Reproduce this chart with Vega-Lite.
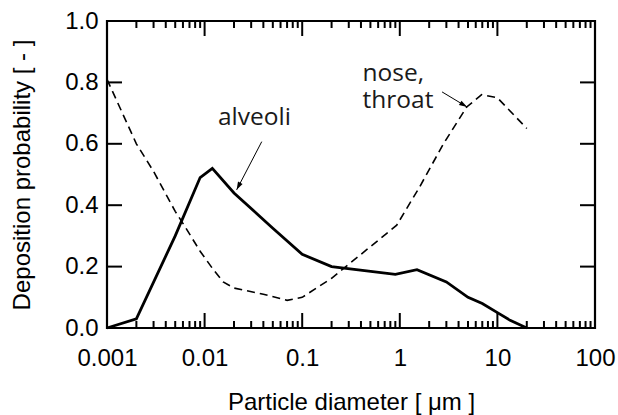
{
  "$schema": "https://vega.github.io/schema/vega-lite/v6.json",
  "width": 488,
  "height": 307,
  "autosize": {"type": "none"},
  "padding": {"left": 107, "top": 21, "right": 23, "bottom": 87},
  "background": "white",
  "config": {
    "view": {"stroke": null},
    "axis": {
      "labelFont": "Liberation Sans", "labelFontSize": 24, "labelColor": "#000",
      "titleFont": "Liberation Sans", "titleFontSize": 24, "titleFontWeight": "normal", "titleColor": "#000",
      "grid": false, "labelFlush": false, "labelOverlap": false,
      "domain": false, "tickOpacity": 0
    }
  },
  "datasets": {
    "curves": [
      {"region": "alveoli", "d": 0.001, "p": 0.0, "o": 1},
      {"region": "alveoli", "d": 0.002, "p": 0.03, "o": 2},
      {"region": "alveoli", "d": 0.005, "p": 0.30, "o": 3},
      {"region": "alveoli", "d": 0.009, "p": 0.49, "o": 4},
      {"region": "alveoli", "d": 0.012, "p": 0.52, "o": 5},
      {"region": "alveoli", "d": 0.02, "p": 0.44, "o": 6},
      {"region": "alveoli", "d": 0.05, "p": 0.325, "o": 7},
      {"region": "alveoli", "d": 0.1, "p": 0.24, "o": 8},
      {"region": "alveoli", "d": 0.2, "p": 0.20, "o": 9},
      {"region": "alveoli", "d": 0.9, "p": 0.175, "o": 10},
      {"region": "alveoli", "d": 1.5, "p": 0.19, "o": 11},
      {"region": "alveoli", "d": 3, "p": 0.15, "o": 12},
      {"region": "alveoli", "d": 5, "p": 0.10, "o": 13},
      {"region": "alveoli", "d": 7, "p": 0.08, "o": 14},
      {"region": "alveoli", "d": 10, "p": 0.05, "o": 15},
      {"region": "alveoli", "d": 13.5, "p": 0.025, "o": 16},
      {"region": "alveoli", "d": 20, "p": 0.0, "o": 17},
      {"region": "nose", "d": 0.001, "p": 0.81, "o": 1},
      {"region": "nose", "d": 0.002, "p": 0.60, "o": 2},
      {"region": "nose", "d": 0.003, "p": 0.51, "o": 3},
      {"region": "nose", "d": 0.005, "p": 0.38, "o": 4},
      {"region": "nose", "d": 0.0063, "p": 0.33, "o": 5},
      {"region": "nose", "d": 0.009, "p": 0.25, "o": 6},
      {"region": "nose", "d": 0.0123, "p": 0.19, "o": 7},
      {"region": "nose", "d": 0.0155, "p": 0.15, "o": 8},
      {"region": "nose", "d": 0.02, "p": 0.13, "o": 9},
      {"region": "nose", "d": 0.04, "p": 0.11, "o": 10},
      {"region": "nose", "d": 0.07, "p": 0.09, "o": 11},
      {"region": "nose", "d": 0.1, "p": 0.10, "o": 12},
      {"region": "nose", "d": 0.2, "p": 0.162, "o": 13},
      {"region": "nose", "d": 0.5, "p": 0.265, "o": 14},
      {"region": "nose", "d": 0.93, "p": 0.335, "o": 15},
      {"region": "nose", "d": 1.6, "p": 0.46, "o": 16},
      {"region": "nose", "d": 2.8, "p": 0.60, "o": 17},
      {"region": "nose", "d": 4.85, "p": 0.72, "o": 18},
      {"region": "nose", "d": 6.9, "p": 0.76, "o": 19},
      {"region": "nose", "d": 10, "p": 0.75, "o": 20},
      {"region": "nose", "d": 20, "p": 0.65, "o": 21},
      {"region": "border", "d": 0.001, "p": 0, "o": 1},
      {"region": "border", "d": 100, "p": 0, "o": 2},
      {"region": "border", "d": 100, "p": 1, "o": 3},
      {"region": "border", "d": 0.001, "p": 1, "o": 4},
      {"region": "border", "d": 0.001, "p": 0, "o": 5}
    ],
    "notes": [
      {"text": "alveoli", "d": 0.0137, "p": 0.661},
      {"text": "nose,\nthroat", "d": 0.415, "p": 0.805}
    ],
    "arrows": [
      {"name": "alveoli", "d": 0.0385, "p": 0.607, "d2": 0.0213, "p2": 0.45},
      {"name": "nose", "d": 2.71, "p": 0.769, "d2": 4.89, "p2": 0.72}
    ],
    "xticks": [
      {"v": 0.001, "kind": "major"}, {"v": 0.01, "kind": "major"}, {"v": 0.1, "kind": "major"},
      {"v": 1, "kind": "major"}, {"v": 10, "kind": "major"}, {"v": 100, "kind": "major"},
      {"v": 0.002, "kind": "minor"}, {"v": 0.003, "kind": "minor"}, {"v": 0.004, "kind": "minor"}, {"v": 0.005, "kind": "minor"}, {"v": 0.006, "kind": "minor"}, {"v": 0.007, "kind": "minor"}, {"v": 0.008, "kind": "minor"}, {"v": 0.009, "kind": "minor"},
      {"v": 0.02, "kind": "minor"}, {"v": 0.03, "kind": "minor"}, {"v": 0.04, "kind": "minor"}, {"v": 0.05, "kind": "minor"}, {"v": 0.06, "kind": "minor"}, {"v": 0.07, "kind": "minor"}, {"v": 0.08, "kind": "minor"}, {"v": 0.09, "kind": "minor"},
      {"v": 0.2, "kind": "minor"}, {"v": 0.3, "kind": "minor"}, {"v": 0.4, "kind": "minor"}, {"v": 0.5, "kind": "minor"}, {"v": 0.6, "kind": "minor"}, {"v": 0.7, "kind": "minor"}, {"v": 0.8, "kind": "minor"}, {"v": 0.9, "kind": "minor"},
      {"v": 2, "kind": "minor"}, {"v": 3, "kind": "minor"}, {"v": 4, "kind": "minor"}, {"v": 5, "kind": "minor"}, {"v": 6, "kind": "minor"}, {"v": 7, "kind": "minor"}, {"v": 8, "kind": "minor"}, {"v": 9, "kind": "minor"},
      {"v": 20, "kind": "minor"}, {"v": 30, "kind": "minor"}, {"v": 40, "kind": "minor"}, {"v": 50, "kind": "minor"}, {"v": 60, "kind": "minor"}, {"v": 70, "kind": "minor"}, {"v": 80, "kind": "minor"}, {"v": 90, "kind": "minor"}
    ],
    "yticks": [{"v": 0.2}, {"v": 0.4}, {"v": 0.6}, {"v": 0.8}]
  },
  "layer": [
    {
      "data": {"name": "curves"},
      "transform": [{"filter": "datum.region === 'alveoli'"}],
      "mark": {"type": "line", "color": "#000", "strokeWidth": 2.8},
      "encoding": {
        "x": {
          "field": "d", "type": "quantitative",
          "scale": {"type": "log", "domain": [0.001, 100], "nice": false},
          "axis": {
            "orient": "bottom",
            "values": [0.001, 0.01, 0.1, 1, 10, 100],
            "format": "~g",
            "tickSize": -15,
            "labelPadding": 33,
            "title": "Particle diameter [ μm ]",
            "titlePadding": 20
          }
        },
        "y": {
          "field": "p", "type": "quantitative",
          "scale": {"domain": [0, 1], "nice": false},
          "axis": {
            "orient": "left",
            "values": [0, 0.2, 0.4, 0.6, 0.8, 1.0],
            "format": ".1f",
            "tickSize": -15,
            "labelPadding": 24,
            "title": "Deposition probability [ - ]",
            "titlePadding": 30
          }
        },
        "order": {"field": "o", "type": "quantitative"}
      }
    },
    {
      "data": {"name": "curves"},
      "transform": [{"filter": "datum.region === 'nose'"}],
      "mark": {"type": "line", "color": "#000", "strokeWidth": 1.6, "strokeDash": [8, 5]},
      "encoding": {
        "x": {"field": "d", "type": "quantitative"},
        "y": {"field": "p", "type": "quantitative"},
        "order": {"field": "o", "type": "quantitative"}
      }
    },
    {
      "data": {"name": "curves"},
      "transform": [{"filter": "datum.region === 'border'"}],
      "mark": {"type": "line", "color": "#000", "strokeWidth": 2.2, "strokeCap": "square", "strokeJoin": "miter"},
      "encoding": {
        "x": {"field": "d", "type": "quantitative"},
        "y": {"field": "p", "type": "quantitative"},
        "order": {"field": "o", "type": "quantitative"}
      }
    },
    {
      "data": {"name": "xticks"},
      "transform": [{"filter": "datum.kind === 'major'"}],
      "mark": {"type": "tick", "orient": "vertical", "color": "#000", "opacity": 1, "size": 15, "thickness": 2, "yOffset": -7.5},
      "encoding": {
        "x": {"field": "v", "type": "quantitative"},
        "y": {"datum": 0, "type": "quantitative"}
      }
    },
    {
      "data": {"name": "xticks"},
      "transform": [{"filter": "datum.kind === 'major'"}],
      "mark": {"type": "tick", "orient": "vertical", "color": "#000", "opacity": 1, "size": 15, "thickness": 2, "yOffset": 7.5},
      "encoding": {
        "x": {"field": "v", "type": "quantitative"},
        "y": {"datum": 1, "type": "quantitative"}
      }
    },
    {
      "data": {"name": "xticks"},
      "transform": [{"filter": "datum.kind === 'minor'"}],
      "mark": {"type": "tick", "orient": "vertical", "color": "#000", "opacity": 1, "size": 7, "thickness": 2, "yOffset": -3.5},
      "encoding": {
        "x": {"field": "v", "type": "quantitative"},
        "y": {"datum": 0, "type": "quantitative"}
      }
    },
    {
      "data": {"name": "xticks"},
      "transform": [{"filter": "datum.kind === 'minor'"}],
      "mark": {"type": "tick", "orient": "vertical", "color": "#000", "opacity": 1, "size": 7, "thickness": 2, "yOffset": 3.5},
      "encoding": {
        "x": {"field": "v", "type": "quantitative"},
        "y": {"datum": 1, "type": "quantitative"}
      }
    },
    {
      "data": {"name": "yticks"},
      "mark": {"type": "tick", "orient": "horizontal", "color": "#000", "opacity": 1, "size": 15, "thickness": 2, "xOffset": 7.5},
      "encoding": {
        "x": {"datum": 0.001, "type": "quantitative"},
        "y": {"field": "v", "type": "quantitative"}
      }
    },
    {
      "data": {"name": "yticks"},
      "mark": {"type": "tick", "orient": "horizontal", "color": "#000", "opacity": 1, "size": 15, "thickness": 2, "xOffset": -7.5},
      "encoding": {
        "x": {"datum": 100, "type": "quantitative"},
        "y": {"field": "v", "type": "quantitative"}
      }
    },
    {
      "data": {"name": "notes"},
      "mark": {"type": "text", "font": "Open Sans", "fontSize": 24.5, "align": "left", "baseline": "alphabetic", "color": "#1a1a1a", "lineBreak": "\n", "lineHeight": 27},
      "encoding": {
        "x": {"field": "d", "type": "quantitative"},
        "y": {"field": "p", "type": "quantitative"},
        "text": {"field": "text"}
      }
    },
    {
      "data": {"name": "arrows"},
      "mark": {"type": "rule", "color": "#000", "strokeWidth": 1},
      "encoding": {
        "x": {"field": "d", "type": "quantitative"},
        "y": {"field": "p", "type": "quantitative"},
        "x2": {"field": "d2"},
        "y2": {"field": "p2"}
      }
    },
    {
      "data": {"name": "arrows"},
      "transform": [{"filter": "datum.name === 'alveoli'"}],
      "mark": {"type": "point", "shape": "M0,0 L-0.32,1 L0.32,1 Z", "filled": true, "color": "#000", "opacity": 1, "size": 256, "angle": 207},
      "encoding": {
        "x": {"field": "d2", "type": "quantitative"},
        "y": {"field": "p2", "type": "quantitative"}
      }
    },
    {
      "data": {"name": "arrows"},
      "transform": [{"filter": "datum.name === 'nose'"}],
      "mark": {"type": "point", "shape": "M0,0 L-0.32,1 L0.32,1 Z", "filled": true, "color": "#000", "opacity": 1, "size": 256, "angle": 121},
      "encoding": {
        "x": {"field": "d2", "type": "quantitative"},
        "y": {"field": "p2", "type": "quantitative"}
      }
    }
  ]
}
